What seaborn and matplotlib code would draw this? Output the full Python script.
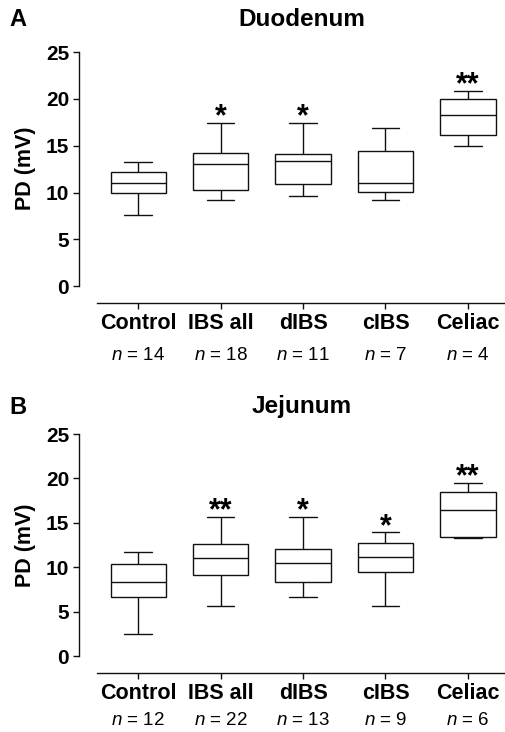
import pandas as pd
import numpy as np
import matplotlib.pyplot as plt
import seaborn as sns

groups = ['Control', 'IBS all', 'dIBS', 'cIBS', 'Celiac']

# Duodenum: whisker low, Q1, median, Q3, whisker high
duo_low = [7.6, 9.25, 9.6, 9.25, 15.0]
duo_q1 = [10.0, 10.3, 10.9, 10.05, 16.2]
duo_med = [11.0, 13.05, 13.4, 11.0, 18.3]
duo_q3 = [12.2, 14.25, 14.1, 14.45, 20.0]
duo_high = [13.25, 17.45, 17.45, 16.9, 20.9]
duo_n = [14, 18, 11, 7, 4]
duo_stars = ['', '*', '*', '', '**']

# Jejunum
jej_low = [2.5, 5.65, 6.7, 5.65, 13.3]
jej_q1 = [6.7, 9.15, 8.35, 9.5, 13.4]
jej_med = [8.35, 11.05, 10.5, 11.15, 16.45]
jej_q3 = [10.4, 12.6, 12.1, 12.75, 18.45]
jej_high = [11.7, 15.7, 15.7, 13.95, 19.5]
jej_n = [12, 22, 13, 9, 6]
jej_stars = ['', '**', '*', '*', '**']

sns.set_theme(style='ticks')
plt.rcParams['font.family'] = ['Liberation Sans', 'DejaVu Sans']
plt.rcParams['text.color'] = 'black'
plt.rcParams['axes.labelcolor'] = 'black'
plt.rcParams['mathtext.fontset'] = 'custom'
plt.rcParams['mathtext.rm'] = 'Liberation Sans'
plt.rcParams['mathtext.it'] = 'Liberation Sans:italic'


def five_point_frame(low, q1, med, q3, high):
    # five points per group: with whis=(0, 100) the box reproduces the summary
    rows = []
    for g, a, b, c, d, e in zip(groups, low, q1, med, q3, high):
        for v in (a, b, c, d, e):
            rows.append({'group': g, 'pd': v})
    return pd.DataFrame(rows)


def draw_panel(ax, df, highs, stars, ns, n_offset):
    sns.boxplot(data=df, x='group', y='pd', order=groups, whis=(0, 100),
                width=0.67, color='white', linecolor='#111111', linewidth=1.0,
                showfliers=False, ax=ax)
    ax.set_xlim(-0.5, 4.45)
    ax.set_ylim(0, 25)
    ax.set_yticks([0, 5, 10, 15, 20, 25])
    ax.set_xlabel('')
    ax.set_ylabel('')
    sns.despine(ax=ax, offset={'left': 13, 'bottom': 12})
    ax.spines['left'].set_bounds(0, 25)
    for s in ('left', 'bottom'):
        ax.spines[s].set_linewidth(1.0)
        ax.spines[s].set_color('#111111')
    ax.tick_params(axis='both', length=4, width=1.0, color='#111111',
                   labelcolor='black', pad=3)
    for lab in ax.get_yticklabels():
        lab.set_fontsize(15)
        lab.set_fontweight('bold')
    for lab in ax.get_xticklabels():
        lab.set_fontsize(15.5)
        lab.set_fontweight('bold')
    for i, (h, s) in enumerate(zip(highs, stars)):
        if s:
            ax.annotate(s, xy=(i, h), xytext=(0, -7), textcoords='offset points',
                        ha='center', va='bottom', fontsize=22, fontweight='bold')
    for i, n in enumerate(ns):
        ax.annotate(f'$n$ = {n}', xy=(i, 0), xycoords=('data', 'axes fraction'),
                    xytext=(0, n_offset), textcoords='offset points',
                    ha='center', va='center', fontsize=13.5)


fig = plt.figure(figsize=(5.05, 7.32), dpi=100)
ax1 = fig.add_axes([0.192, 0.609, 0.808, 0.3197])
ax2 = fig.add_axes([0.192, 0.1034, 0.808, 0.3037])

draw_panel(ax1, five_point_frame(duo_low, duo_q1, duo_med, duo_q3, duo_high),
           duo_high, duo_stars, duo_n, -50)
draw_panel(ax2, five_point_frame(jej_low, jej_q1, jej_med, jej_q3, jej_high),
           jej_high, jej_stars, jej_n, -46)

fig.text(18 / 505, 1 - 20 / 732, 'A', ha='center', va='center', fontsize=17, fontweight='bold')
fig.text(302 / 505, 1 - 20 / 732, 'Duodenum', ha='center', va='center', fontsize=17.5, fontweight='bold')
fig.text(25 / 505, 1 - 168 / 732, 'PD (mV)', rotation=90, ha='center', va='center', fontsize=15.5, fontweight='bold')

fig.text(18 / 505, 1 - 407 / 732, 'B', ha='center', va='center', fontsize=17, fontweight='bold')
fig.text(302 / 505, 1 - 407 / 732, 'Jejunum', ha='center', va='center', fontsize=17.5, fontweight='bold')
fig.text(25 / 505, 1 - 545 / 732, 'PD (mV)', rotation=90, ha='center', va='center', fontsize=15.5, fontweight='bold')

fig.savefig('out.png', dpi=100)
